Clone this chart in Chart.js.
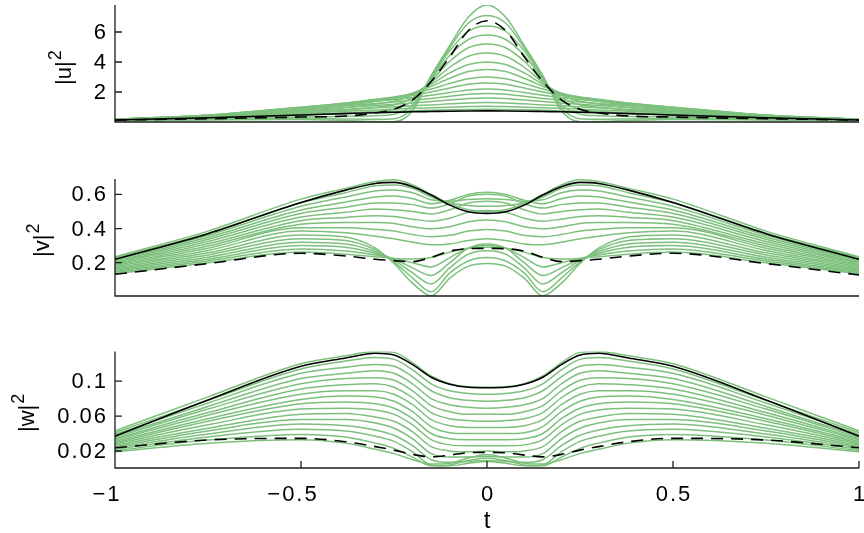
<!DOCTYPE html>
<html>
<head>
<meta charset="utf-8">
<script src="https://cdn.jsdelivr.net/npm/chart.js@4.4.1/dist/chart.umd.min.js"></script>
<style>
  body { margin: 0; background: #fff; }
  #wrap { position: relative; width: 864px; height: 533px; }
  #wrap canvas { position: absolute; left: 0; top: 0; }
</style>
</head>
<body>
<div id="wrap">
  <canvas id="chart_u" width="864" height="533"></canvas>
  <canvas id="chart_v" width="864" height="533"></canvas>
  <canvas id="chart_w" width="864" height="533"></canvas>
</div>
<script>
// sample positions along t (shared by all three panels)
const tGrid = [-1, -0.75, -0.5, -0.38, -0.3, -0.25, -0.2, -0.15, -0.1, -0.05, 0,
               0.05, 0.1, 0.15, 0.2, 0.25, 0.3, 0.38, 0.5, 0.75, 1];
const xTicks = [-1, -0.5, 0, 0.5, 1];
const xTickLabels = ['\u22121', '\u22120.5', '0', '0.5', '1'];

const uTicks = [2, 4, 6];
const uTickLabels = ['2', '4', '6'];
const vTicks = [0.2, 0.4, 0.6];
const vTickLabels = ['0.2', '0.4', '0.6'];
const wTicks = [0.02, 0.06, 0.1];
const wTickLabels = ['0.02', '0.06', '0.1'];

// |u|^2
const uSolid  = [0.13, 0.28, 0.47, 0.56, 0.62, 0.65, 0.68, 0.70, 0.72, 0.735, 0.74, 0.735, 0.72, 0.70, 0.68, 0.65, 0.62, 0.56, 0.47, 0.28, 0.13];
const uDashed = [0.13, 0.22, 0.33, 0.40, 0.60, 0.85, 1.47, 2.70, 4.35, 6.10, 6.75, 6.10, 4.35, 2.70, 1.47, 0.85, 0.60, 0.40, 0.33, 0.22, 0.13];
const uGreen = [
  [0.14, 0.30, 0.52, 0.62, 0.68, 0.72, 0.75, 0.78, 0.81, 0.84, 0.85, 0.84, 0.81, 0.78, 0.75, 0.72, 0.68, 0.62, 0.52, 0.30, 0.14],
  [0.15, 0.33, 0.60, 0.72, 0.80, 0.86, 0.91, 0.95, 0.99, 1.03, 1.05, 1.03, 0.99, 0.95, 0.91, 0.86, 0.80, 0.72, 0.60, 0.33, 0.15],
  [0.16, 0.36, 0.69, 0.84, 0.95, 1.01, 1.08, 1.14, 1.21, 1.27, 1.30, 1.27, 1.21, 1.14, 1.08, 1.01, 0.95, 0.84, 0.69, 0.36, 0.16],
  [0.17, 0.40, 0.79, 0.97, 1.10, 1.18, 1.27, 1.36, 1.46, 1.56, 1.60, 1.56, 1.46, 1.36, 1.27, 1.18, 1.10, 0.97, 0.79, 0.40, 0.17],
  [0.18, 0.43, 0.88, 1.08, 1.24, 1.34, 1.45, 1.57, 1.71, 1.85, 1.90, 1.85, 1.71, 1.57, 1.45, 1.34, 1.24, 1.08, 0.88, 0.43, 0.18],
  [0.19, 0.45, 0.95, 1.18, 1.38, 1.50, 1.62, 1.78, 1.96, 2.14, 2.20, 2.14, 1.96, 1.78, 1.62, 1.50, 1.38, 1.18, 0.95, 0.45, 0.19],
  [0.19, 0.46, 0.99, 1.25, 1.48, 1.62, 1.78, 2.00, 2.27, 2.51, 2.60, 2.51, 2.27, 2.00, 1.78, 1.62, 1.48, 1.25, 0.99, 0.46, 0.19],
  [0.19, 0.45, 0.98, 1.27, 1.52, 1.67, 1.88, 2.20, 2.57, 2.89, 3.00, 2.89, 2.57, 2.20, 1.88, 1.67, 1.52, 1.27, 0.98, 0.45, 0.19],
  [0.18, 0.42, 0.93, 1.22, 1.48, 1.64, 1.92, 2.38, 2.92, 3.36, 3.50, 3.36, 2.92, 2.38, 1.92, 1.64, 1.48, 1.22, 0.93, 0.42, 0.18],
  [0.17, 0.39, 0.84, 1.12, 1.38, 1.55, 1.90, 2.52, 3.27, 3.83, 4.00, 3.83, 3.27, 2.52, 1.90, 1.55, 1.38, 1.12, 0.84, 0.39, 0.17],
  [0.15, 0.35, 0.72, 0.97, 1.20, 1.38, 1.80, 2.65, 3.65, 4.38, 4.60, 4.38, 3.65, 2.65, 1.80, 1.38, 1.20, 0.97, 0.72, 0.35, 0.15],
  [0.14, 0.30, 0.58, 0.78, 0.98, 1.15, 1.62, 2.75, 4.05, 4.95, 5.20, 4.95, 4.05, 2.75, 1.62, 1.15, 0.98, 0.78, 0.58, 0.30, 0.14],
  [0.13, 0.25, 0.45, 0.57, 0.70, 0.85, 1.40, 2.85, 4.45, 5.50, 5.80, 5.50, 4.45, 2.85, 1.40, 0.85, 0.70, 0.57, 0.45, 0.25, 0.13],
  [0.11, 0.20, 0.33, 0.37, 0.42, 0.52, 1.15, 2.95, 4.75, 6.05, 6.40, 6.05, 4.75, 2.95, 1.15, 0.52, 0.42, 0.37, 0.33, 0.20, 0.11],
  [0.10, 0.16, 0.24, 0.20, 0.18, 0.22, 0.95, 3.05, 4.95, 6.60, 7.10, 6.60, 4.95, 3.05, 0.95, 0.22, 0.18, 0.20, 0.24, 0.16, 0.10],
  [0.09, 0.13, 0.17, 0.10, 0.03, 0.02, 0.75, 3.10, 5.10, 7.00, 7.80, 7.00, 5.10, 3.10, 0.75, 0.02, 0.03, 0.10, 0.17, 0.13, 0.09]
];

// |v|^2
const vSolid  = [0.220, 0.370, 0.553, 0.625, 0.664, 0.670, 0.645, 0.596, 0.537, 0.498, 0.489, 0.498, 0.537, 0.596, 0.645, 0.670, 0.664, 0.625, 0.553, 0.370, 0.220];
const vDashed = [0.132, 0.195, 0.255, 0.239, 0.220, 0.212, 0.206, 0.232, 0.268, 0.282, 0.284, 0.282, 0.268, 0.232, 0.206, 0.212, 0.220, 0.239, 0.255, 0.195, 0.128];
const vGreen = [
  [0.135, 0.200, 0.262, 0.250, 0.235, 0.225, 0.222, 0.230, 0.262, 0.285, 0.290, 0.285, 0.262, 0.230, 0.222, 0.225, 0.235, 0.250, 0.262, 0.200, 0.135],
  [0.142, 0.210, 0.280, 0.268, 0.245, 0.225, 0.200, 0.175, 0.230, 0.285, 0.300, 0.285, 0.230, 0.175, 0.200, 0.225, 0.245, 0.268, 0.280, 0.210, 0.142],
  [0.149, 0.220, 0.300, 0.290, 0.255, 0.220, 0.170, 0.125, 0.200, 0.285, 0.310, 0.285, 0.200, 0.125, 0.170, 0.220, 0.255, 0.290, 0.300, 0.220, 0.149],
  [0.156, 0.232, 0.320, 0.310, 0.265, 0.215, 0.140, 0.075, 0.170, 0.250, 0.270, 0.250, 0.170, 0.075, 0.140, 0.215, 0.265, 0.310, 0.320, 0.232, 0.156],
  [0.163, 0.245, 0.340, 0.330, 0.275, 0.205, 0.110, 0.030, 0.140, 0.210, 0.230, 0.210, 0.140, 0.030, 0.110, 0.205, 0.275, 0.330, 0.340, 0.245, 0.163],
  [0.170, 0.258, 0.362, 0.350, 0.285, 0.195, 0.080, 0.006, 0.110, 0.180, 0.195, 0.180, 0.110, 0.006, 0.080, 0.195, 0.285, 0.350, 0.362, 0.258, 0.170],
  [0.177, 0.272, 0.385, 0.375, 0.355, 0.340, 0.320, 0.305, 0.310, 0.330, 0.340, 0.330, 0.310, 0.305, 0.320, 0.340, 0.355, 0.375, 0.385, 0.272, 0.177],
  [0.184, 0.285, 0.405, 0.405, 0.395, 0.385, 0.365, 0.352, 0.360, 0.385, 0.395, 0.385, 0.360, 0.352, 0.365, 0.385, 0.395, 0.405, 0.405, 0.285, 0.184],
  [0.190, 0.298, 0.425, 0.435, 0.435, 0.430, 0.410, 0.398, 0.410, 0.440, 0.450, 0.440, 0.410, 0.398, 0.410, 0.430, 0.435, 0.435, 0.425, 0.298, 0.190],
  [0.197, 0.311, 0.446, 0.465, 0.475, 0.470, 0.455, 0.443, 0.460, 0.495, 0.505, 0.495, 0.460, 0.443, 0.455, 0.470, 0.475, 0.465, 0.446, 0.311, 0.197],
  [0.203, 0.324, 0.467, 0.495, 0.515, 0.510, 0.500, 0.485, 0.510, 0.550, 0.560, 0.550, 0.510, 0.485, 0.500, 0.510, 0.515, 0.495, 0.467, 0.324, 0.203],
  [0.210, 0.337, 0.488, 0.525, 0.550, 0.550, 0.540, 0.520, 0.545, 0.590, 0.600, 0.590, 0.545, 0.520, 0.540, 0.550, 0.550, 0.525, 0.488, 0.337, 0.210],
  [0.216, 0.349, 0.509, 0.555, 0.585, 0.590, 0.575, 0.545, 0.565, 0.600, 0.612, 0.600, 0.565, 0.545, 0.575, 0.590, 0.585, 0.555, 0.509, 0.349, 0.216],
  [0.222, 0.361, 0.530, 0.585, 0.620, 0.625, 0.610, 0.568, 0.560, 0.570, 0.575, 0.570, 0.560, 0.568, 0.610, 0.625, 0.620, 0.585, 0.530, 0.361, 0.222],
  [0.229, 0.373, 0.551, 0.610, 0.650, 0.655, 0.635, 0.585, 0.550, 0.535, 0.530, 0.535, 0.550, 0.585, 0.635, 0.655, 0.650, 0.610, 0.551, 0.373, 0.229],
  [0.235, 0.385, 0.572, 0.635, 0.675, 0.685, 0.655, 0.600, 0.545, 0.510, 0.500, 0.510, 0.545, 0.600, 0.655, 0.685, 0.675, 0.635, 0.572, 0.385, 0.235]
];

// |w|^2
const wSolid  = [0.037, 0.0785, 0.117, 0.1265, 0.132, 0.130, 0.119, 0.1045, 0.0965, 0.093, 0.0925, 0.093, 0.0965, 0.1045, 0.119, 0.130, 0.132, 0.1265, 0.117, 0.0785, 0.037];
const wDashed = [0.0237, 0.0326, 0.0345, 0.0306, 0.025, 0.021, 0.0161, 0.0133, 0.0153, 0.018, 0.0184, 0.018, 0.0153, 0.0133, 0.0161, 0.021, 0.025, 0.0306, 0.0345, 0.0326, 0.0237];
const wGreen = [
  [0.019, 0.029, 0.033, 0.029, 0.022, 0.017, 0.010, 0.005, 0.006, 0.012, 0.016, 0.012, 0.006, 0.005, 0.010, 0.017, 0.022, 0.029, 0.033, 0.029, 0.019],
  [0.0205, 0.0325, 0.039, 0.036, 0.029, 0.023, 0.013, 0.003, 0.004, 0.009, 0.012, 0.009, 0.004, 0.003, 0.013, 0.023, 0.029, 0.036, 0.039, 0.0325, 0.0205],
  [0.022, 0.036, 0.045, 0.043, 0.037, 0.031, 0.019, 0.004, 0.003, 0.006, 0.008, 0.006, 0.003, 0.004, 0.019, 0.031, 0.037, 0.043, 0.045, 0.036, 0.022],
  [0.0235, 0.0395, 0.051, 0.049, 0.044, 0.038, 0.026, 0.010, 0.007, 0.008, 0.009, 0.008, 0.007, 0.010, 0.026, 0.038, 0.044, 0.049, 0.051, 0.0395, 0.0235],
  [0.025, 0.043, 0.056, 0.056, 0.052, 0.046, 0.034, 0.017, 0.013, 0.013, 0.014, 0.013, 0.013, 0.017, 0.034, 0.046, 0.052, 0.056, 0.056, 0.043, 0.025],
  [0.0265, 0.046, 0.062, 0.063, 0.059, 0.054, 0.042, 0.025, 0.020, 0.019, 0.020, 0.019, 0.020, 0.025, 0.042, 0.054, 0.059, 0.063, 0.062, 0.046, 0.0265],
  [0.028, 0.050, 0.068, 0.069, 0.067, 0.062, 0.050, 0.033, 0.027, 0.026, 0.026, 0.026, 0.027, 0.033, 0.050, 0.062, 0.067, 0.069, 0.068, 0.050, 0.028],
  [0.0295, 0.054, 0.074, 0.076, 0.074, 0.069, 0.057, 0.040, 0.034, 0.033, 0.033, 0.033, 0.034, 0.040, 0.057, 0.069, 0.074, 0.076, 0.074, 0.054, 0.0295],
  [0.031, 0.057, 0.079, 0.083, 0.082, 0.077, 0.065, 0.048, 0.041, 0.040, 0.040, 0.040, 0.041, 0.048, 0.065, 0.077, 0.082, 0.083, 0.079, 0.057, 0.031],
  [0.0325, 0.061, 0.085, 0.089, 0.089, 0.085, 0.073, 0.056, 0.049, 0.047, 0.047, 0.047, 0.049, 0.056, 0.073, 0.085, 0.089, 0.089, 0.085, 0.061, 0.0325],
  [0.034, 0.064, 0.091, 0.096, 0.097, 0.093, 0.081, 0.064, 0.057, 0.055, 0.054, 0.055, 0.057, 0.064, 0.081, 0.093, 0.097, 0.096, 0.091, 0.064, 0.034],
  [0.0355, 0.068, 0.097, 0.103, 0.104, 0.101, 0.089, 0.072, 0.065, 0.062, 0.062, 0.062, 0.065, 0.072, 0.089, 0.101, 0.104, 0.103, 0.097, 0.068, 0.0355],
  [0.037, 0.071, 0.103, 0.109, 0.112, 0.109, 0.097, 0.080, 0.073, 0.070, 0.069, 0.070, 0.073, 0.080, 0.097, 0.109, 0.112, 0.109, 0.103, 0.071, 0.037],
  [0.039, 0.075, 0.109, 0.116, 0.119, 0.117, 0.105, 0.089, 0.081, 0.078, 0.077, 0.078, 0.081, 0.089, 0.105, 0.117, 0.119, 0.116, 0.109, 0.075, 0.039],
  [0.041, 0.078, 0.114, 0.123, 0.127, 0.125, 0.113, 0.097, 0.089, 0.086, 0.085, 0.086, 0.089, 0.097, 0.113, 0.125, 0.127, 0.123, 0.114, 0.078, 0.041],
  [0.043, 0.082, 0.120, 0.129, 0.134, 0.133, 0.121, 0.106, 0.097, 0.0935, 0.093, 0.0935, 0.097, 0.106, 0.121, 0.133, 0.134, 0.129, 0.120, 0.082, 0.043]
];

const FONT = '"Liberation Sans", Arial, Helvetica, sans-serif';
const GREEN = 'rgb(124, 192, 124)';
const AXIS = '#1c1c1c';

function toPoints(vals) {
  return vals.map((v, i) => ({x: tGrid[i], y: v}));
}

function buildDatasets(green, dashed, solid) {
  // first dataset is painted on top in Chart.js
  var sets = [
    {data: toPoints(solid), borderColor: '#000', borderWidth: 1.6},
    {data: toPoints(dashed), borderColor: '#000', borderWidth: 1.6, borderDash: [12, 8]}
  ];
  green.forEach(vals => sets.push({data: toPoints(vals), borderColor: GREEN, borderWidth: 1.5}));
  sets.forEach(s => {
    s.pointRadius = 0;
    s.fill = false;
    s.cubicInterpolationMode = 'monotone';
  });
  return sets;
}

// axes lines, inward tick marks, tick labels, y label with superscript, t label
const axesPlugin = {
  id: 'axesDeco',
  afterDraw(chart, args, opts) {
    const ctx = chart.ctx;
    const a = chart.chartArea;
    const ys = chart.scales.y;
    const xs = chart.scales.x;
    ctx.save();
    ctx.strokeStyle = AXIS;
    ctx.lineWidth = 1.3;
    ctx.beginPath();
    ctx.moveTo(a.left, a.top);
    ctx.lineTo(a.left, a.bottom);
    ctx.lineTo(a.right, a.bottom);
    opts.yTicks.forEach(v => {
      const y = ys.getPixelForValue(v);
      ctx.moveTo(a.left, y);
      ctx.lineTo(a.left + 7, y);
    });
    if (opts.showX) {
      xTicks.forEach(v => {
        const x = xs.getPixelForValue(v);
        ctx.moveTo(x, a.bottom);
        ctx.lineTo(x, a.bottom - 7);
      });
    }
    ctx.stroke();

    ctx.fillStyle = '#000';
    ctx.font = '22px ' + FONT;
    ctx.letterSpacing = '2px';
    ctx.textAlign = 'right';
    ctx.textBaseline = 'middle';
    opts.yTicks.forEach((v, i) => {
      ctx.fillText(opts.yTickLabels[i], a.left - 7, ys.getPixelForValue(v) + 1);
    });
    if (opts.showX) {
      ctx.textAlign = 'center';
      xTicks.forEach((v, i) => {
        const x = xs.getPixelForValue(v) - (v < 0 ? 9 : 0) + 1;
        ctx.fillText(xTickLabels[i], x, 495);
      });
      ctx.letterSpacing = '0px';
      ctx.font = '24px ' + FONT;
      ctx.fillText('t', xs.getPixelForValue(0), 521);
    }
    ctx.letterSpacing = '0px';

    ctx.translate(opts.labelX, opts.labelY);
    ctx.rotate(-Math.PI / 2);
    ctx.textAlign = 'left';
    ctx.textBaseline = 'alphabetic';
    ctx.font = '22px ' + FONT;
    ctx.fillText(opts.label, 0, 0);
    const w = ctx.measureText(opts.label).width;
    ctx.font = '18px ' + FONT;
    ctx.fillText('2', w + 1, -10);
    ctx.restore();
  }
};

function makePanel(id, green, dashed, solid, p) {
  var ctx = document.getElementById(id).getContext('2d');
  return new Chart(ctx, {
    type: 'line',
    data: {datasets: buildDatasets(green, dashed, solid)},
    plugins: [axesPlugin],
    options: {
      responsive: false,
      animation: false,
      devicePixelRatio: 1,
      events: [],
      layout: {
        autoPadding: false,
        padding: {left: 0, right: 5, top: p.top, bottom: 533 - p.bottom}
      },
      plugins: {
        legend: {display: false},
        tooltip: {enabled: false},
        axesDeco: {
          yTicks: p.ticks, yTickLabels: p.tickLabels, showX: p.showX,
          label: p.label, labelX: p.labelX, labelY: p.labelY
        }
      },
      scales: {
        x: {
          type: 'linear', min: -1, max: 1,
          grid: {display: false, drawTicks: false},
          border: {display: false},
          ticks: {display: false},
          afterFit: s => { s.height = 0; }
        },
        y: {
          type: 'linear', min: p.min, max: p.max,
          grid: {display: false, drawTicks: false},
          border: {display: false},
          ticks: {display: false},
          afterFit: s => { s.width = 115; }
        }
      }
    }
  });
}

makePanel('chart_u', uGreen, uDashed, uSolid, {
  top: 5, bottom: 122, min: 0, max: 7.8,
  ticks: uTicks, tickLabels: uTickLabels,
  label: '|u|', labelX: 70.5, labelY: 85, showX: false
});
makePanel('chart_v', vGreen, vDashed, vSolid, {
  top: 179, bottom: 296, min: 0.005, max: 0.69,
  ticks: vTicks, tickLabels: vTickLabels,
  label: '|v|', labelX: 48.5, labelY: 257, showX: false
});
makePanel('chart_w', wGreen, wDashed, wSolid, {
  top: 351.5, bottom: 468, min: 0.0005, max: 0.134,
  ticks: wTicks, tickLabels: wTickLabels,
  label: '|w|', labelX: 33.5, labelY: 432, showX: true
});
</script>
</body>
</html>
